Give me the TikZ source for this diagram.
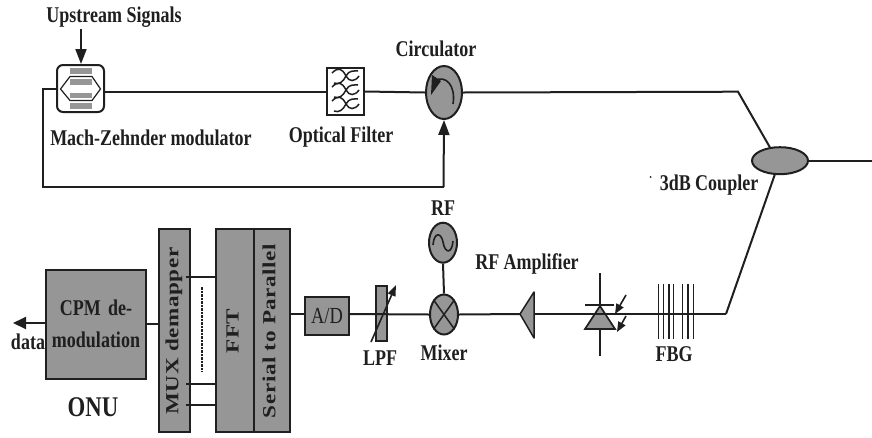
\documentclass[tikz,border=0pt]{standalone}
\usepackage{fontspec}
\setmainfont{Liberation Serif}
\newfontfamily\labfont[FakeStretch=0.8]{Liberation Serif Bold}
\newfontfamily\vlabfont[FakeStretch=1.25,LetterSpace=3]{Liberation Serif Bold}
\newfontfamily\adfont[FakeStretch=0.8]{Liberation Serif}
\usetikzlibrary{arrows.meta,shapes.geometric,calc}
\definecolor{blk}{gray}{0.12}
\definecolor{gfill}{gray}{0.59}
\tikzset{
  x=1pt,y=-1pt,
  wire/.style={draw=blk,line width=2pt,line join=miter},
  thin wire/.style={draw=blk,line width=1.6pt},
  arr/.style={wire,-{Triangle[length=15pt,width=11pt]}},
  lab/.style={inner sep=0pt,text=blk,font=\labfont\fontsize{22.5}{24}\selectfont,align=center},
  vlab/.style={inner sep=0pt,text=blk,rotate=90,font=\vlabfont\fontsize{18.5}{20}\selectfont},
  gbox/.style={draw=blk,fill=gfill,line width=2pt,inner sep=0pt,minimum width=0pt,minimum height=0pt},
  oval/.style={ellipse,draw=blk,fill=gfill,line width=2pt,inner sep=0pt},
  pt/.style={inner sep=0pt,minimum size=0pt},
}
\begin{document}
\begin{tikzpicture}
\useasboundingbox (0,0) rectangle (872,437);

% --- Mach-Zehnder modulator
\node[draw=blk,line width=2pt,rounded corners=6pt,minimum width=47pt,minimum height=47pt,inner sep=0pt] (mz) at (80.5,88.5) {};
\foreach \yy/\hh in {71/5.5,82/5.5,95.5/5.5,106/5.5}
  \fill[gfill] (70,\yy-\hh/2) rectangle (92,\yy+\hh/2);
\draw[blk,line width=1.2pt] (60.5,89) -- (70,76.5) -- (92,76.5) -- (100.5,89) -- (92,100.5) -- (70,100.5) -- cycle;

\node[lab] (upstream) at (114,17.5) {Upstream Signals};
\node[lab] (mzlabel) at (151,138) {Mach-Zehnder modulator};
\draw[arr] (81,29) -- (mz.north -| 81,0);

% --- Optical filter
\node[draw=blk,line width=1.7pt,fill=white,minimum width=37pt,minimum height=47pt,inner sep=0pt] (filter) at (345.5,91.5) {};
\foreach \yy in {70,84,98}{
  \draw[blk,line width=1.5pt] (332,\yy+3) .. controls (338,\yy-3) and (342,\yy-2) .. (346,\yy+6) .. controls (349,\yy+12) and (355,\yy+12) .. (359,\yy+6);
  \draw[blk,line width=1.5pt] (334,\yy+13) .. controls (339,\yy+15) and (343,\yy+12) .. (346,\yy+6) .. controls (349,\yy) and (354,\yy+1) .. (358,\yy+1);
}
\node[lab] (filterlabel) at (341,137) {Optical Filter};

% --- Circulator
\node[oval,minimum width=36pt,minimum height=53pt] (circ) at (444,92.5) {};
\node[lab] (circlabel) at (436,49) {Circulator};
\draw[blk,line width=1.6pt] (453,104) .. controls (456,86) and (446,74) .. (434,81);
\fill[blk] (432,75) -- (441,81) -- (431,95) -- cycle;

% --- Coupler
\node[oval,minimum width=56pt,minimum height=27pt] (coupler) at (780,160.7) {};
\node[lab] (couplerlabel) at (709,185) {3dB Coupler};
\node[inner sep=0pt,minimum size=2pt,circle,fill=blk] (speck) at (650.5,177) {};

% --- top connectors
\coordinate (mzloop) at (43,88.5);
\coordinate (loopbottom) at (43,187);
\coordinate (loopright) at (443.5,187);
\coordinate (bend1) at (738,91.7);
\coordinate (bend2) at (726,314);
\coordinate (outright) at (872,160.7);
\draw[wire] (mz.west) -- (mzloop) -- (loopbottom) -- (loopright);
\draw[arr] (loopright) -- (circ.south);
\draw[wire] (mz.east |- filter.west) -- (filter.west);
\draw[wire] (filter.east) -- (circ.west);
\draw[wire] (circ.east) -- (bend1) -- (770,147.5);
\draw[wire] (coupler.east) -- (outright);
\draw[wire] (775,174) -- (bend2);

% --- Lower chain blocks
\node[gbox,minimum width=100pt,minimum height=109pt] (cpm) at (96,324.5) {};
\node[lab,text width=100pt] (cpmtext) at (96,323.5) {CPM de-\\[8pt]modulation};
\node[gbox,minimum width=31pt,minimum height=203pt] (mux) at (174,330.5) {};
\node[vlab] (muxtext) at (174,331) {MUX demapper};
\node[gbox,minimum width=38pt,minimum height=203pt] (fft) at (235,330.5) {};
\node[vlab] (ffttext) at (232.5,331) {FFT};
\node[gbox,minimum width=36pt,minimum height=203pt] (sp) at (272,330.5) {};
\node[vlab] (sptext) at (269,331) {Serial to Parallel};
\node[gbox,minimum width=44pt,minimum height=38pt] (ad) at (327,316) {};
\node[inner sep=0pt,text=blk,font=\adfont\fontsize{23}{25}\selectfont] (adtext) at (327,316) {A/D};
\node[gbox,minimum width=11pt,minimum height=55pt,line width=1.5pt] (lpf) at (381.5,313.5) {};
\node[lab] (lpflabel) at (380,358) {LPF};

\node[oval,minimum width=28pt,minimum height=40pt] (mixer) at (444,314.5) {};
\draw[blk,line width=1.5pt] (mixer.north west) -- (mixer.south east);
\draw[blk,line width=1.5pt] (mixer.north east) -- (mixer.south west);
\node[lab] (mixerlabel) at (444,353) {Mixer};
\node[oval,minimum width=28pt,minimum height=40pt] (rfsrc) at (443,242.7) {};
\draw[blk,line width=1.6pt] (433,245) .. controls (434,232) and (441,232) .. (443,242) .. controls (445,254) and (452,254) .. (453,241);
\node[lab] (rflabel) at (443,208) {RF};
\node[lab] (amplabel) at (527,264) {RF Amplifier};

% amplifier
\node[pt] (ampapex) at (520,314) {};
\node[pt] (ampright) at (534,314) {};
\draw[blk,fill=gfill,line width=1.5pt,line join=round] (ampapex.center) -- (534,292) -- (534,338) -- cycle;

% photodiode
\node[pt] (diode) at (600,314) {};
\node[pt] (dtop) at (600,273) {};
\node[pt] (dbot) at (600,356) {};
\draw[thin wire] (dtop) -- (dbot);
\draw[blk,fill=gfill,line width=1.7pt,line join=miter] (600,306) -- (585,329) -- (615,329) -- cycle;
\draw[wire] (585,305) -- (614,305);
\draw[thin wire,-{Triangle[length=10pt,width=8pt]}] (626,295) -- (615,314);
\draw[thin wire,-{Triangle[length=10pt,width=8pt]}] (626,316) -- (617,332);

% FBG
\foreach \xx in {658.3,663.5,669,673.5,682.3,688,693.5}
  \draw[blk,line width=1.5pt] (\xx,284) -- (\xx,339);
\node[lab] (fbglabel) at (674,354) {FBG};

% lower connectors
\coordinate (dataend) at (13,323);
\draw[wire,-{Triangle[length=13pt,width=12pt]}] (cpm.west |- dataend) -- (dataend);
\node[lab] (datalabel) at (28,342) {data};
\node[lab,font=\labfont\fontsize{28.5}{30}\selectfont] (onu) at (93,407) {ONU};
\draw[wire] (cpm.east |- 0,324) -- (mux.west |- 0,324);
\draw[thin wire] (186,277) -- (217,277);
\draw[thin wire] (186,384) -- (217,384);
\draw[thin wire] (186,405) -- (217,405);
\draw[blk,line width=1.5pt,dash pattern=on 2.5pt off 1pt] (202,287) -- (202,372);
\draw[wire] (sp.east |- 0,314) -- (ad.west |- 0,314);
\draw[wire] (ad.east |- 0,314) -- (mixer.west);
\draw[wire] (mixer.east) -- (ampapex.center);
\draw[wire] (ampright.center) -- (bend2);
\draw[wire] (rfsrc.south) -- (mixer.north);
\draw[thin wire,-{Triangle[length=11pt,width=8pt]}] (371,342) -- (396,285);
\end{tikzpicture}
\end{document}
